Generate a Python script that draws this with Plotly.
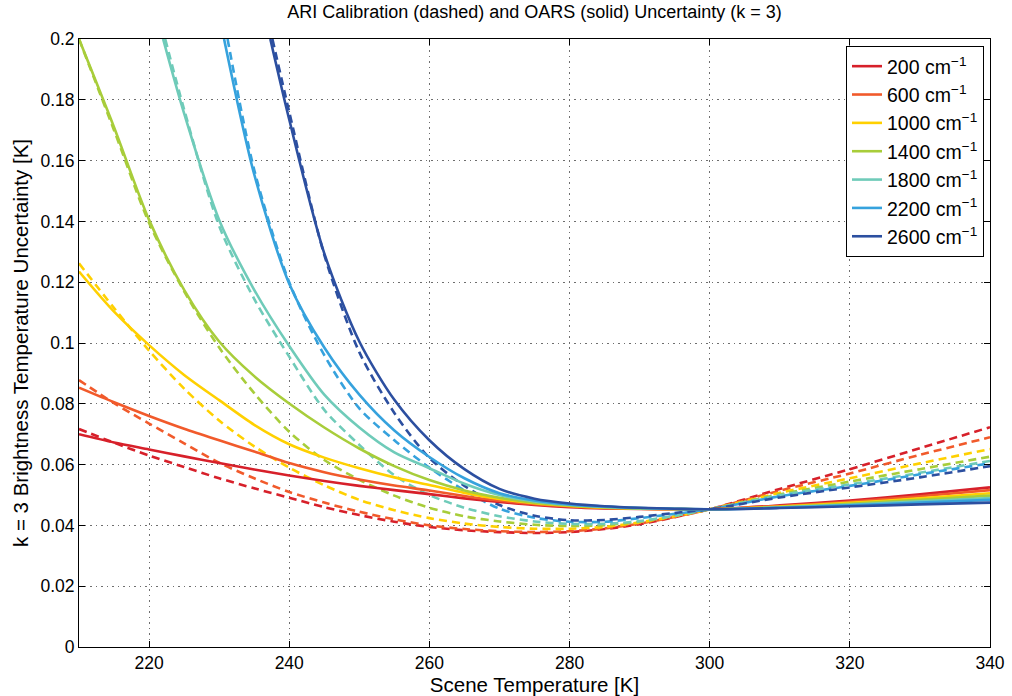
import plotly.graph_objects as go

# scene temperature grid [K]
TEMPS_K = [210, 215, 220, 225, 230, 235, 240, 245, 250, 255, 260, 265,
           270, 275, 280, 285, 290, 295, 300, 310, 320, 330, 340]

WAVENUMBERS = [200, 600, 1000, 1400, 1800, 2200, 2600]
COLORS = ["#d7202a", "#f15a2b", "#ffd000", "#a8cd3a", "#6fcbb9", "#36a2dd", "#2c4fa0"]

# k = 3 brightness temperature uncertainty [K], None where the curve is above the frame
OARS_200 = [0.0700, 0.0673, 0.0650, 0.0627, 0.0605, 0.0584, 0.0564, 0.0546, 0.0530, 0.0516, 0.0503, 0.0489,
            0.0477, 0.0467, 0.0460, 0.0456, 0.0454, 0.0453, 0.0453, 0.0466, 0.0482, 0.0502, 0.0525]
OARS_600 = [0.0853, 0.0805, 0.0760, 0.0718, 0.0680, 0.0643, 0.0605, 0.0575, 0.0551, 0.0531, 0.0515, 0.0497,
            0.0481, 0.0470, 0.0462, 0.0457, 0.0455, 0.0453, 0.0453, 0.0464, 0.0478, 0.0496, 0.0516]
OARS_1000 = [0.1235, 0.1103, 0.0993, 0.0895, 0.0812, 0.0731, 0.0667, 0.0623, 0.0588, 0.0558, 0.0533, 0.0507,
             0.0487, 0.0473, 0.0464, 0.0458, 0.0455, 0.0454, 0.0453, 0.0462, 0.0474, 0.0489, 0.0506]
OARS_1400 = [0.2000, 0.1710, 0.1405, 0.1175, 0.1005, 0.0891, 0.0801, 0.0722, 0.0653, 0.0595, 0.0549, 0.0515,
             0.0491, 0.0475, 0.0466, 0.0460, 0.0456, 0.0454, 0.0453, 0.0460, 0.0471, 0.0484, 0.0498]
OARS_1800 = [None, None, None, 0.1755, 0.1405, 0.1175, 0.0990, 0.0830, 0.0722, 0.0640, 0.0588, 0.0537,
             0.0500, 0.0479, 0.0468, 0.0461, 0.0457, 0.0454, 0.0453, 0.0459, 0.0468, 0.0479, 0.0490]
OARS_2200 = [None, None, None, None, None, 0.1555, 0.1195, 0.0985, 0.0830, 0.0712, 0.0625, 0.0555,
             0.0506, 0.0482, 0.0469, 0.0462, 0.0457, 0.0455, 0.0453, 0.0458, 0.0466, 0.0475, 0.0484]
OARS_2600 = [None, None, None, None, None, None, 0.1735, 0.1295, 0.1005, 0.0813, 0.0680, 0.0585,
             0.0520, 0.0488, 0.0472, 0.0463, 0.0458, 0.0455, 0.0453, 0.0457, 0.0463, 0.0469, 0.0475]

ARI_200 = [0.0717, 0.0672, 0.0630, 0.0592, 0.0555, 0.0522, 0.0491, 0.0460, 0.0434, 0.0412, 0.0395, 0.0384,
           0.0378, 0.0375, 0.0378, 0.0388, 0.0404, 0.0427, 0.0453, 0.0520, 0.0585, 0.0654, 0.0723]
ARI_600 = [0.0878, 0.0802, 0.0735, 0.0670, 0.0606, 0.0555, 0.0510, 0.0475, 0.0445, 0.0420, 0.0400, 0.0388,
           0.0381, 0.0378, 0.0381, 0.0390, 0.0406, 0.0428, 0.0453, 0.0514, 0.0571, 0.0632, 0.0690]
ARI_1000 = [0.1262, 0.1115, 0.0975, 0.0850, 0.0745, 0.0660, 0.0590, 0.0532, 0.0484, 0.0450, 0.0424, 0.0406,
            0.0395, 0.0389, 0.0389, 0.0395, 0.0410, 0.0430, 0.0453, 0.0507, 0.0555, 0.0604, 0.0651]
ARI_1400 = [0.2000, 0.1700, 0.1395, 0.1170, 0.0985, 0.0835, 0.0708, 0.0615, 0.0550, 0.0498, 0.0458, 0.0430,
            0.0413, 0.0402, 0.0398, 0.0401, 0.0412, 0.0431, 0.0453, 0.0502, 0.0544, 0.0585, 0.0626]
ARI_1800 = [None, None, None, 0.1768, 0.1385, 0.1145, 0.0955, 0.0780, 0.0665, 0.0565, 0.0500, 0.0458,
            0.0430, 0.0413, 0.0405, 0.0405, 0.0414, 0.0432, 0.0453, 0.0499, 0.0535, 0.0573, 0.0612]
ARI_2200 = [None, None, None, None, None, 0.1570, 0.1200, 0.0960, 0.0785, 0.0680, 0.0590, 0.0515,
            0.0455, 0.0425, 0.0412, 0.0412, 0.0424, 0.0438, 0.0453, 0.0496, 0.0530, 0.0568, 0.0604]
ARI_2600 = [None, None, None, None, None, None, 0.1760, 0.1290, 0.0970, 0.0770, 0.0622, 0.0530,
            0.0467, 0.0432, 0.0417, 0.0418, 0.0428, 0.0441, 0.0453, 0.0492, 0.0525, 0.0558, 0.0595]

# temperature where a curve comes in through the top edge of the frame
OARS_TOP_K = [None, None, None, None, 222.0, 230.7, 237.3]
ARI_TOP_K = [None, None, None, None, 222.3, 231.2, 237.6]

OARS = [OARS_200, OARS_600, OARS_1000, OARS_1400, OARS_1800, OARS_2200, OARS_2600]
ARI = [ARI_200, ARI_600, ARI_1000, ARI_1400, ARI_1800, ARI_2200, ARI_2600]

Y_MAX = 0.2
FONT = "Liberation Sans, Arial, Helvetica, sans-serif"


def series(values, top_k):
    xs = [t for t, v in zip(TEMPS_K, values) if v is not None]
    ys = [v for v in values if v is not None]
    if top_k is not None:
        xs = [top_k] + xs
        ys = [Y_MAX] + ys
    return xs, ys


fig = go.Figure()

# ARI calibration, dashed
for wn, color, vals, top in zip(WAVENUMBERS, COLORS, ARI, ARI_TOP_K):
    xs, ys = series(vals, top)
    fig.add_trace(go.Scatter(
        x=xs, y=ys, mode="lines", showlegend=False,
        line=dict(color=color, width=2.6, dash="8px,5px", shape="spline", smoothing=0.8),
        hoverinfo="skip",
    ))

# OARS, solid
for wn, color, vals, top in zip(WAVENUMBERS, COLORS, OARS, OARS_TOP_K):
    xs, ys = series(vals, top)
    fig.add_trace(go.Scatter(
        x=xs, y=ys, mode="lines", name=f"{wn} cm<sup>\u22121</sup>",
        line=dict(color=color, width=2.6, shape="spline", smoothing=0.8),
    ))

axis_common = dict(
    showline=True, linecolor="black", linewidth=1, mirror="allticks",
    ticks="inside", ticklen=6, tickcolor="black", automargin=False,
    showgrid=True, gridcolor="#6e6e6e", griddash="1.5px,4px", gridwidth=1,
    zeroline=False, tickfont=dict(size=17.5, color="black", family=FONT),
)

fig.update_xaxes(
    range=[210, 340], tickvals=[220, 240, 260, 280, 300, 320, 340],
    title=dict(text="Scene Temperature [K]", font=dict(size=20.5, color="black", family=FONT), standoff=0),
    **axis_common,
)
fig.update_yaxes(
    range=[0, Y_MAX], tickvals=[0, 0.02, 0.04, 0.06, 0.08, 0.1, 0.12, 0.14, 0.16, 0.18, 0.2],
    title=dict(text="k = 3 Brightness Temperature Uncertainty [K]",
               font=dict(size=20.5, color="black", family=FONT), standoff=6),
    **axis_common,
)

fig.update_layout(
    width=1012, height=696,
    margin=dict(l=79, r=22, t=39, b=49),
    paper_bgcolor="white", plot_bgcolor="white",
    font=dict(family=FONT, color="black"),
    title=dict(text="ARI Calibration (dashed) and OARS (solid) Uncertainty (k = 3)",
               x=0.5, xref="paper", xanchor="center", y=1 - 12 / 696, yanchor="middle",
               font=dict(size=18, color="black", family=FONT)),
    legend=dict(x=0.9934, y=0.9885, xanchor="right", yanchor="top",
                bgcolor="white", bordercolor="black", borderwidth=1,
                font=dict(size=19.5, color="black", family=FONT),
                tracegroupgap=0, itemwidth=30),
)

# drop the browser's default 8px body margin so the figure sits at the page corner
fig.write_html("out.html", config={"displayModeBar": False},
               post_script="document.body.style.margin = '0';")
